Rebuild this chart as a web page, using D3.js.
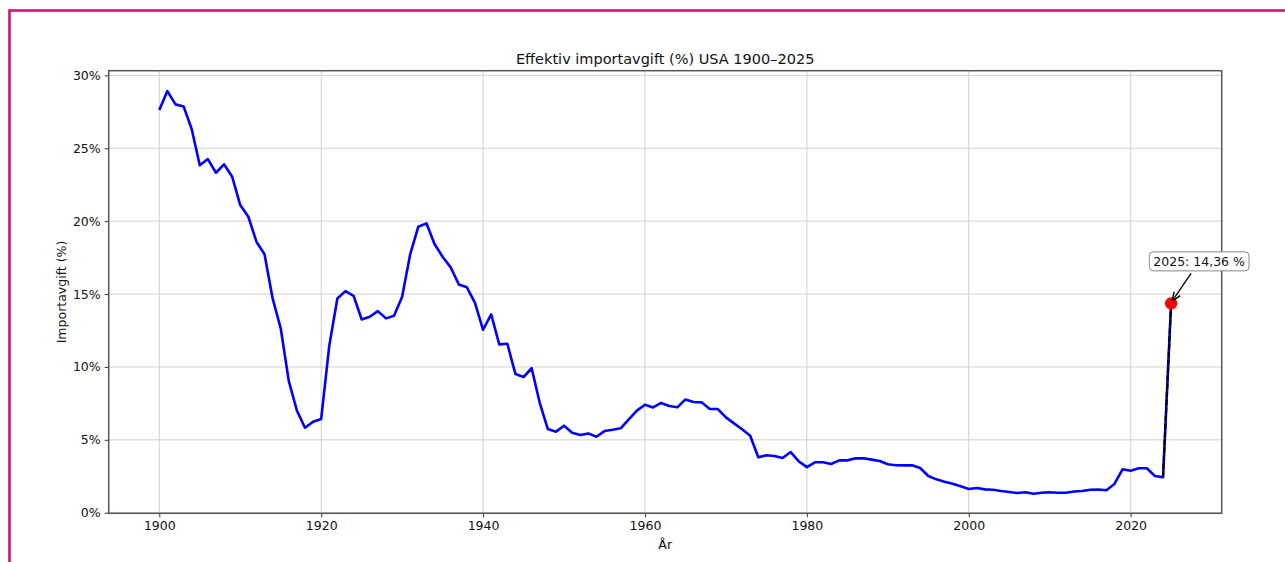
<!DOCTYPE html>
<html>
<head>
<meta charset="utf-8">
<script src="https://cdn.jsdelivr.net/npm/d3@7"></script>
<style>
  html, body { margin: 0; padding: 0; background: #fff; }
  svg { display: block; }
  text { font-family: "DejaVu Sans", sans-serif; fill: #111; }
</style>
</head>
<body>
<svg id="chart" width="1285" height="562"></svg>
<script>
const years = d3.range(1900, 2026);
const tariffs = [
  27.62, 28.92, 28.01, 27.87, 26.32, 23.83, 24.26, 23.32, 23.90, 23.05,
  21.10, 20.30, 18.59, 17.73, 14.70, 12.65, 9.03, 7.00, 5.83, 6.24,
  6.43, 11.46, 14.70, 15.20, 14.88, 13.26, 13.44, 13.83, 13.33, 13.51,
  14.82, 17.74, 19.62, 19.85, 18.43, 17.56, 16.83, 15.66, 15.46, 14.40,
  12.55, 13.60, 11.55, 11.59, 9.51, 9.31, 9.91, 7.54, 5.74, 5.56,
  5.97, 5.49, 5.33, 5.44, 5.21, 5.60, 5.69, 5.79, 6.40, 7.00,
  7.41, 7.22, 7.53, 7.32, 7.23, 7.77, 7.59, 7.57, 7.11, 7.11,
  6.54, 6.13, 5.72, 5.28, 3.80, 3.94, 3.89, 3.75, 4.16, 3.52,
  3.13, 3.46, 3.46, 3.34, 3.59, 3.59, 3.73, 3.74, 3.64, 3.55,
  3.32, 3.26, 3.25, 3.25, 3.07, 2.52, 2.29, 2.13, 1.99, 1.81,
  1.63, 1.69, 1.60, 1.58, 1.49, 1.42, 1.35, 1.40, 1.30, 1.37,
  1.40, 1.37, 1.37, 1.45, 1.49, 1.58, 1.59, 1.54, 1.97, 2.98,
  2.88, 3.05, 3.05, 2.52, 2.43, 14.36
];
const xTicks = [1900, 1920, 1940, 1960, 1980, 2000, 2020];
const yTicks = [0, 5, 10, 15, 20, 25, 30];
const titleText = "Effektiv importavgift (%) USA 1900–2025";
const xLabel = "År";
const yLabel = "Importavgift (%)";
const annoText = "2025: 14,36 %";

const data = years.map((y, i) => ({ year: y, v: tariffs[i] }));

const svg = d3.select("#chart");
const L = 108.7, R = 1221.7, T = 70.7, B = 513.3;

const x = d3.scaleLinear().domain([1893.75, 2031.25]).range([L, R]);
const y = d3.scaleLinear().domain([-0.04, 30.32]).range([B, T]);

// outer magenta border
svg.append("rect").attr("x", 9.5).attr("y", 10.5).attr("width", 1400).attr("height", 700)
  .attr("fill", "none").attr("stroke", "#c8147f").attr("stroke-width", 2.6);

// gridlines
const grid = svg.append("g");
grid.selectAll("line.gx").data(xTicks).join("line").attr("class", "gx")
  .attr("x1", d => x(d)).attr("x2", d => x(d)).attr("y1", T).attr("y2", B)
  .attr("stroke", "#d0d0d0").attr("stroke-width", 1);
grid.selectAll("line.gy").data(yTicks).join("line").attr("class", "gy")
  .attr("x1", L).attr("x2", R).attr("y1", d => y(d)).attr("y2", d => y(d))
  .attr("stroke", "#d0d0d0").attr("stroke-width", 1);

// axes
const xAxis = d3.axisBottom(x).tickValues(xTicks).tickFormat(d3.format("d")).tickSize(4).tickPadding(4);
const yAxis = d3.axisLeft(y).tickValues(yTicks).tickFormat(d => d + "%").tickSize(4).tickPadding(4);
const gx = svg.append("g").attr("transform", `translate(0,${B})`).call(xAxis);
const gy = svg.append("g").attr("transform", `translate(${L},0)`).call(yAxis);
[gx, gy].forEach(g => {
  g.select(".domain").remove();
  g.selectAll(".tick line").attr("stroke", "#333").attr("stroke-width", 1);
  g.selectAll(".tick text").attr("font-size", 12.5).attr("fill", "#111")
    .style("font-family", "'DejaVu Sans', sans-serif");
});

// line
const line = d3.line().x(d => x(d.year)).y(d => y(d.v));
svg.append("path").datum(data).attr("d", line)
  .attr("fill", "none").attr("stroke", "#0000ff").attr("stroke-width", 2.6)
  .attr("stroke-linejoin", "round");

// dashed segment 2024-2025
svg.append("path").datum(data.slice(-2)).attr("d", line)
  .attr("fill", "none").attr("stroke", "#000").attr("stroke-width", 2.2)
  .attr("stroke-dasharray", "6,2");

// frame
svg.append("rect").attr("x", L).attr("y", T).attr("width", R - L).attr("height", B - T)
  .attr("fill", "none").attr("stroke", "#555").attr("stroke-width", 1.5);

// red marker
const last = data[data.length - 1];
svg.append("circle").attr("cx", x(last.year)).attr("cy", y(last.v)).attr("r", 6.2)
  .attr("fill", "#ff0000");

// annotation
const defs = svg.append("defs");
defs.append("marker").attr("id", "ah").attr("viewBox", "0 0 10 10")
  .attr("refX", 9).attr("refY", 5).attr("markerWidth", 7).attr("markerHeight", 7)
  .attr("orient", "auto-start-reverse")
  .append("path").attr("d", "M0,1 L10,5 L0,9").attr("fill", "none").attr("stroke", "#000").attr("stroke-width", 1.5);

const px = x(last.year), py = y(last.v);
const bx = px + 28, by = py - 42;
svg.append("line").attr("x1", px + 20).attr("y1", py - 30)
  .attr("x2", px + 1.5).attr("y2", py - 3)
  .attr("stroke", "#000").attr("stroke-width", 1.3).attr("marker-end", "url(#ah)");
const annoG = svg.append("g");
const boxRect = annoG.append("rect");
const at = annoG.append("text").attr("x", bx).attr("y", by).attr("text-anchor", "middle")
  .attr("dominant-baseline", "central").attr("font-size", 12.5).text(annoText);
const bb = at.node().getBBox();
boxRect.attr("x", bb.x - 4).attr("y", bb.y - 2).attr("width", bb.width + 8).attr("height", bb.height + 4)
  .attr("rx", 4).attr("fill", "#fff").attr("stroke", "#888").attr("stroke-width", 1);

// titles
svg.append("text").attr("x", (L + R) / 2).attr("y", 64).attr("text-anchor", "middle")
  .attr("font-size", 14.5).text(titleText);
svg.append("text").attr("x", (L + R) / 2).attr("y", 549).attr("text-anchor", "middle")
  .attr("font-size", 12.5).text(xLabel);
svg.append("text").attr("transform", `translate(66,${(T + B) / 2}) rotate(-90)`)
  .attr("text-anchor", "middle").attr("font-size", 12.5).text(yLabel);
</script>
</body>
</html>
